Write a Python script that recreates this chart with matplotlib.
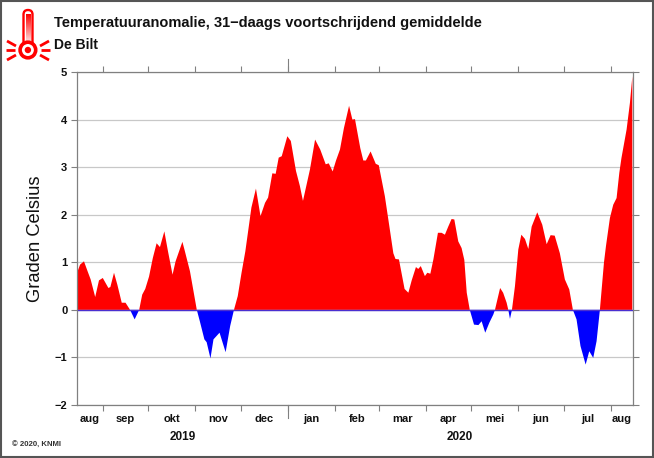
import matplotlib
matplotlib.use("Agg")
import matplotlib.pyplot as plt
import numpy as np
import pandas as pd
from matplotlib.patches import Circle, FancyBboxPatch, Rectangle

RED = "#ff0000"
BLUE = "#0000ff"
GRID = "#c8c8c8"
AXIS = "#808080"
TEXT = "#111111"

START = pd.Timestamp("2019-08-15")
END_DAY = 366.3

# days since 15 aug 2019
days = [0.4, 2, 4.6, 7, 9, 12, 14.5, 17, 20.7, 22, 24.4, 26.6, 29.5, 32, 35, 38, 41, 43, 45,
        47.5, 50, 52.5, 54.7, 57.6, 60, 63, 65, 69.5, 71, 74.5, 79, 81, 84, 85.5, 88, 90, 94,
        98, 101, 103.5, 106, 108.5, 111, 113, 115, 118, 121, 124, 126, 128.8, 131, 133, 135,
        138.7, 141, 144.4, 147, 149, 153.6, 157, 160.4, 164, 166, 168.6, 170.8, 173.4, 176,
        179.4, 181.6, 183.3, 186.8, 188.8, 190.5, 193.6, 197, 199, 203, 206, 208.6, 210, 212.3,
        216, 218.5, 220.7, 223.5, 225, 226.7, 229.4, 231, 233, 235, 238, 240.4, 242.6, 244.8,
        247, 248.8, 251.4, 253.6, 255.4, 257, 259, 261.8, 264.7, 266.8, 269.2, 271.9, 274.5,
        275.6, 279, 281, 283.3, 284.4, 285.5, 286.8, 288.8, 291, 293, 295.4, 297.6, 299.8,
        303.5, 306.8, 309.7, 312.3, 315, 318.4, 321.7, 324.6, 327, 329.4, 332, 335.4, 337.8,
        340.4, 342.6, 344.8, 347.5, 348.8, 351.4, 353.6, 355.8, 357.6, 359, 362.4, 364.6, 366.2]
anomaly = [0.81, 0.95, 1.02, 0.81, 0.64, 0.27, 0.62, 0.67, 0.46, 0.48, 0.78, 0.53, 0.15, 0.15, 0.0,
           -0.2, 0.0, 0.32, 0.44, 0.7, 1.09, 1.4, 1.32, 1.65, 1.23, 0.74, 1.02, 1.43, 1.25, 0.81,
           0.0, -0.24, -0.62, -0.68, -1.02, -0.62, -0.48, -0.89, -0.34, 0.0, 0.29, 0.78, 1.23,
           1.69, 2.15, 2.55, 1.97, 2.25, 2.36, 2.87, 2.86, 3.2, 3.23, 3.65, 3.55, 2.92, 2.6, 2.29,
           2.95, 3.58, 3.37, 3.06, 3.08, 2.91, 3.14, 3.37, 3.82, 4.29, 4.0, 4.01, 3.4, 3.14, 3.14,
           3.33, 3.07, 3.04, 2.39, 1.75, 1.19, 1.07, 1.06, 0.44, 0.36, 0.62, 0.9, 0.86, 0.92, 0.71,
           0.78, 0.76, 1.06, 1.62, 1.62, 1.58, 1.75, 1.91, 1.9, 1.44, 1.3, 1.05, 0.36, 0.0, -0.31,
           -0.32, -0.24, -0.48, -0.27, -0.1, 0.0, 0.46, 0.36, 0.15, 0.0, -0.19, 0.0, 0.5, 1.27,
           1.58, 1.49, 1.28, 1.75, 2.05, 1.79, 1.38, 1.57, 1.56, 1.19, 0.64, 0.43, 0.0, -0.2, -0.76,
           -1.15, -0.87, -1.01, -0.66, 0.0, 1.0, 1.34, 1.93, 2.21, 2.35, 2.88, 3.19, 3.79, 4.35, 4.91]

month_starts = ["2019-09-01", "2019-10-01", "2019-11-01", "2019-12-01", "2020-01-01", "2020-02-01",
                "2020-03-01", "2020-04-01", "2020-05-01", "2020-06-01", "2020-07-01", "2020-08-01"]
month_names = ["aug", "sep", "okt", "nov", "dec", "jan", "feb", "mar", "apr", "mei", "jun", "jul", "aug"]
y_ticks = [-2, -1, 0, 1, 2, 3, 4, 5]
y_labels = ["\u22122", "\u22121", "0", "1", "2", "3", "4", "5"]

plt.rcParams["font.family"] = ["Liberation Sans", "DejaVu Sans"]

W, H = 654, 458
fig = plt.figure(figsize=(W / 100, H / 100), dpi=100, facecolor="white")
ax = fig.add_axes([77 / W, 1 - 405 / H, (632.5 - 77) / W, (405 - 72) / H])

x = np.array(days)
y = np.array(anomaly)
ax.fill_between(x, 0, y, where=y >= 0, interpolate=True, color=RED, lw=0, zorder=2)
ax.fill_between(x, 0, y, where=y <= 0, interpolate=True, color=BLUE, lw=0, zorder=2)
ax.plot([0.4, END_DAY], [0, 0], color="#4a2fd0", lw=1, zorder=3)

edges = [(pd.Timestamp(m) - START).days for m in month_starts]
bounds = [0] + edges + [END_DAY]
centers = [(a + b) / 2 for a, b in zip(bounds[:-1], bounds[1:])]
new_year = (pd.Timestamp("2020-01-01") - START).days

ax.set_xlim(0, END_DAY)
ax.set_ylim(-2, 5)
ax.set_yticks(y_ticks, y_labels, fontsize=8, fontweight="bold", color=TEXT)
ax.set_xticks(edges, [""] * len(edges))
ax.set_ylabel("Graden Celsius", fontsize=13.2, color=TEXT)
ax.yaxis.set_label_coords(-0.060, 0.5)
ax.tick_params(axis="x", top=True, bottom=True, length=4, width=0.8, color=AXIS)
ax.tick_params(axis="y", left=True, right=True, length=4, width=0.8, color=AXIS, pad=3)
ax.grid(axis="y", color=GRID, lw=0.9, zorder=1)
ax.set_axisbelow(True)
for name, spine in ax.spines.items():
    spine.set_color(AXIS)
    spine.set_linewidth(0.9)
ax.spines["top"].set_zorder(5)

# langere streep op de jaarwisseling
trans = ax.get_xaxis_transform()
ax.plot([new_year, new_year], [1, 1 + 13 / 333], transform=trans, color=AXIS, lw=0.8, clip_on=False)
ax.plot([new_year, new_year], [0, -13 / 333], transform=trans, color=AXIS, lw=0.8, clip_on=False)

for pos, name in zip(centers, month_names):
    ax.text(pos, -14.5 / 333, name, transform=trans, ha="center", va="center",
            fontsize=8, fontweight="bold", color=TEXT)
ax.text(new_year / 2, -31.5 / 333, "2019", transform=trans, ha="center", va="center",
        fontsize=8.5, fontweight="bold", color=TEXT)
ax.text((new_year + END_DAY) / 2, -31.5 / 333, "2020", transform=trans, ha="center", va="center",
        fontsize=8.5, fontweight="bold", color=TEXT)

# overlay in pixels for frame, header and icon
over = fig.add_axes([0, 0, 1, 1], facecolor="none")
over.set_xlim(0, W)
over.set_ylim(H, 0)
over.axis("off")
over.add_patch(Rectangle((1, 1), W - 2.5, H - 2.5, fill=False, ec="#555555", lw=1.5))

over.text(54, 23, "Temperatuuranomalie, 31\u2212daags voortschrijdend gemiddelde", ha="left", va="center",
          fontsize=10.55, fontweight="bold", color=TEXT)
over.text(54, 45, "De Bilt", ha="left", va="center", fontsize=10, fontweight="bold", color=TEXT)
over.text(12, 445, "\u00a9 2020, KNMI", ha="left", va="center", fontsize=5.6, fontweight="bold", color="#333333")

# thermometer
over.add_patch(FancyBboxPatch((23.5, 10), 9, 36, boxstyle="round,pad=0,rounding_size=4.5",
                              fc="white", ec=RED, lw=1.7))
grad = np.linspace(0, 1, 64).reshape(-1, 1)
colors = np.dstack([np.ones_like(grad), grad[::-1], grad[::-1]])
over.imshow(colors[::-1], extent=(25.5, 30.5, 46, 14), aspect="auto", zorder=3)
over.set_xlim(0, W)
over.set_ylim(H, 0)
over.add_patch(Circle((27.9, 50), 7.8, fc="white", ec=RED, lw=2.6, zorder=4))
over.add_patch(Circle((27.9, 50), 3.2, fc=RED, ec=RED, lw=0, zorder=5))
for x0, y0, x1, y1 in [(7, 41, 16, 46), (6, 50, 15, 50), (7, 60, 16, 55),
                       (49, 41, 40, 46), (50, 50, 41, 50), (49, 60, 40, 55)]:
    over.plot([x0, x1], [y0, y1], color=RED, lw=2.0, solid_capstyle="butt")

fig.savefig("out.png", dpi=100)
